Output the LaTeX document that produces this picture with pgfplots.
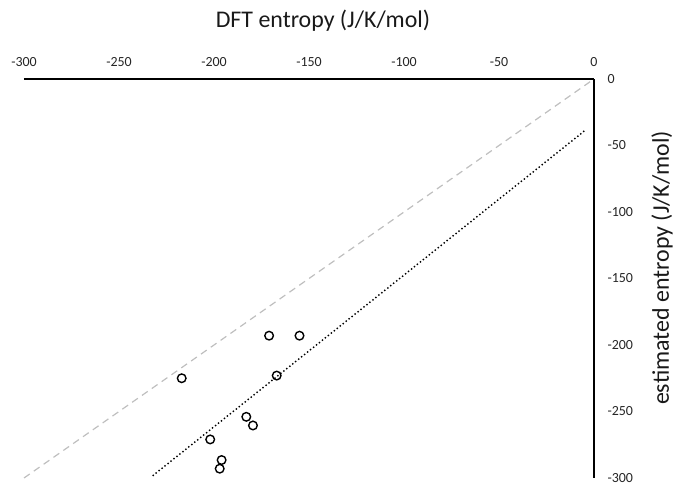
\documentclass[border=0pt]{standalone}
\usepackage{pgfplots}
\pgfplotsset{compat=1.18}
\usepackage{fontspec}
\setmainfont{Carlito}
\begin{document}
\begin{tikzpicture}[x=1bp,y=1bp]
\begin{axis}[
  at={(0,0)}, anchor=south west,
  scale only axis, width=570bp, height=399bp,
  xmin=-300, xmax=0, ymin=-300, ymax=0,
  axis x line=top, axis y line=right,
  axis line style={-, line width=1.2bp, black},
  xtick={-300,-250,...,0}, ytick={-300,-250,...,0},
  major tick length=0pt,
  tick label style={font=\fontsize{14}{16}\selectfont, text=black!85},
  /pgf/number format/assume math mode=true,
  xticklabel style={anchor=south, yshift=9bp},
  yticklabel style={anchor=west, xshift=10bp},
  clip=false,
]
\addplot[gray!50, line width=1.2bp, dash pattern=on 7bp off 5bp] coordinates {(-300,-300) (0,0)};
\addplot[black, line width=2bp, line cap=round, dash pattern=on 0bp off 3.8bp] coordinates {(-232,-298) (-5,-39)};
\addplot[only marks, mark=o, mark size=4.3bp, mark options={line width=1.4bp, draw=black}] coordinates {
(-217,-225) (-171,-193) (-155,-193) (-167,-223) (-183,-254)
(-179.5,-260.5) (-202,-271) (-196,-286.5) (-197,-293)};
\end{axis}
\node[font=\fontsize{24}{28}\selectfont, text=black!90] at (299,457) {DFT entropy (J/K/mol)};
\node[font=\fontsize{24}{28}\selectfont, text=black!90, rotate=90] at (638,210) {estimated entropy (J/K/mol)};
\pgfresetboundingbox
\path[use as bounding box] (-24,-7) rectangle (654,478);
\end{tikzpicture}
\end{document}
